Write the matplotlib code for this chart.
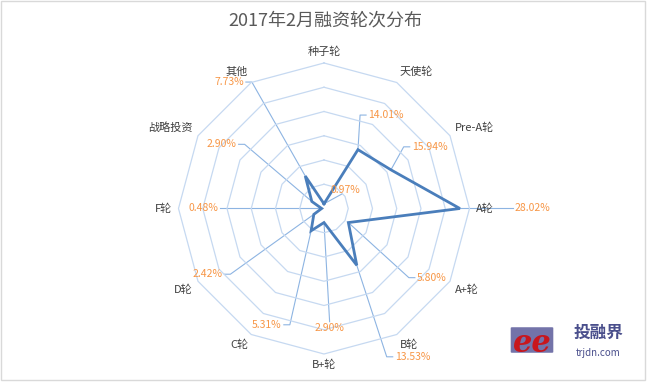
import numpy as np
import matplotlib
matplotlib.use('Agg')
import matplotlib.pyplot as plt
from matplotlib.lines import Line2D
from matplotlib.patches import Rectangle, FancyBboxPatch

plt.rcParams['font.family'] = ['Noto Sans CJK SC', 'DejaVu Sans']

title = '2017年2月融资轮次分布'
rounds = ['种子轮', '天使轮', 'Pre-A轮', 'A轮', 'A+轮', 'B轮', 'B+轮',
          'C轮', 'D轮', 'F轮', '战略投资', '其他']
shares = [0.97, 14.01, 15.94, 28.02, 5.80, 13.53, 2.90,
          5.31, 2.42, 0.48, 2.90, 7.73]
rings = [5, 10, 15, 20, 25, 30]

# where each value label was dragged to: (angle deg, radius), side the leader meets
label_spots = [(48.6, 5.8, 'b'), (33.5, 23.1, 'l'), (59.7, 25.2, 'l'),
               (90.0, 43.0, 'l'), (122.7, 26.4, 'l'), (149.2, 35.6, 'l'),
               (177.3, 24.6, 't'), (206.1, 26.7, 'r'), (240.6, 27.6, 'r'),
               (270.0, 24.9, 'r'), (302.1, 24.9, 'r'), (323.1, 32.6, 'r')]

ring_col = '#C6D9F1'
line_col = '#4A7EBB'
leader_col = '#8DB4E2'
value_col = '#F79646'
text_col = '#404040'

fig = plt.figure(figsize=(6.5, 3.82), dpi=100)
ax = fig.add_axes([0.2746, 0.0733, 0.4477, 0.7618], projection='polar')
ax.set_theta_zero_location('N')
ax.set_theta_direction(-1)
ax.set_ylim(0, 30)
ax.grid(False)
ax.set_xticks([])
ax.set_yticks([])
ax.spines['polar'].set_visible(False)
ax.patch.set_alpha(0)

n = len(rounds)
theta = np.arange(n) * 2 * np.pi / n
th_closed = np.append(theta, theta[0])

for r in rings:
    ax.plot(th_closed, [r] * (n + 1), color=ring_col, lw=0.9, clip_on=False, zorder=1)

ax.plot(th_closed, shares + shares[:1], color=line_col, lw=2.0,
        solid_joinstyle='miter', zorder=3)

# category labels just outside the outer ring
for t, name in zip(theta, rounds):
    s, c = np.sin(t), np.cos(t)
    ha = 'left' if s > 0.01 else ('right' if s < -0.01 else 'center')
    va = 'bottom' if c > 0.01 else ('top' if c < -0.01 else 'center')
    ax.annotate(name, xy=(t, 30), xytext=(6 * s, 6 * c), textcoords='offset pixels',
                ha=ha, va=va, fontsize=8, color=text_col, annotation_clip=False)

labels = []
for (a, r, side), v in zip(label_spots, shares):
    txt = ax.text(np.deg2rad(a), r, f'{v:.2f}%', ha='center', va='center',
                  fontsize=7.5, color=value_col, clip_on=False, zorder=4)
    labels.append(txt)

fig.canvas.draw()
rend = fig.canvas.get_renderer()
to_fig = fig.transFigure.inverted()
for t, v, txt, (a, r, side) in zip(theta, shares, labels, label_spots):
    bb = txt.get_window_extent(rend)
    px, py = ax.transData.transform((t, v))
    yc = (bb.y0 + bb.y1) / 2
    xc = (bb.x0 + bb.x1) / 2
    if side == 'l':
        pts = [(px, py), (bb.x0 - 8, yc), (bb.x0 - 2, yc)]
    elif side == 'r':
        pts = [(px, py), (bb.x1 + 8, yc), (bb.x1 + 2, yc)]
    elif side == 't':
        pts = [(px, py), (xc, bb.y1 + 1)]
    else:
        pts = [(px, py), (bb.x0 + 0.4 * bb.width, bb.y0 + 1)]
    fp = to_fig.transform(pts)
    fig.add_artist(Line2D(fp[:, 0], fp[:, 1], transform=fig.transFigure,
                          color=leader_col, lw=0.8, zorder=-1))

fig.text(0.5, 1 - 20 / 382, title, ha='center', va='center', fontsize=13, color='#595959')

# watermark logo (rough)
fig.add_artist(FancyBboxPatch((512 / 650, 1 - 352 / 382), 40 / 650, 24 / 382,
                              boxstyle='round,pad=0.002', transform=fig.transFigure,
                              facecolor='#5B5A9A', edgecolor='none', alpha=0.85))
fig.text(532 / 650, 1 - 343 / 382, 'ee', ha='center', va='center', fontsize=22,
         fontstyle='italic', fontweight='bold', color='#C8161D',
         family=['DejaVu Serif'])
fig.text(598 / 650, 1 - 333 / 382, '投融界', ha='center', va='center',
         fontsize=12, fontweight='bold', color='#4A4F8C')
fig.text(598 / 650, 1 - 353 / 382, 'trjdn.com', ha='center', va='center',
         fontsize=7, color='#4A4F8C')

fig.add_artist(Rectangle((0.0008, 0.0065), 0.9922, 0.992, transform=fig.transFigure,
                         fill=False, edgecolor='#D9D9D9', lw=1))

fig.savefig('out.png', dpi=100)
